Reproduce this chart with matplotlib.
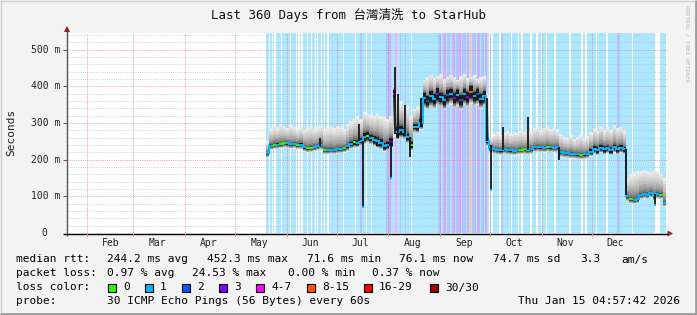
import datetime as dt
import numpy as np
import matplotlib
matplotlib.use("Agg")
import matplotlib.pyplot as plt
from matplotlib.patches import Rectangle, Polygon
from matplotlib.lines import Line2D

# ---------------- data ----------------
TITLE = "Last 360 Days from 台灣清洗 to StarHub"
range_start = dt.datetime(2025, 1, 20, 4, 57, 42)
range_days = 360
month_names = ["Feb", "Mar", "Apr", "May", "Jun", "Jul", "Aug", "Sep", "Oct", "Nov", "Dec"]
month_numbers = [2, 3, 4, 5, 6, 7, 8, 9, 10, 11, 12]
y_tick_values = [0, 100, 200, 300, 400, 500]
y_tick_labels = ["0", "100 m", "200 m", "300 m", "400 m", "500 m"]
y_max_ms = 545

first_col_day = 119.4     # first day with data (days after range start)
col_days = 2.0            # width of one data column in days

median_ms = [
    217, 238, 240, 241, 242, 245, 244, 242, 243, 240,
    241, 233, 231, 232, 234, 236, 240, 226, 226, 227,
    226, 228, 229, 231, 236, 243, 247, 246, 252, 262,
    265, 260, 254, 250, 246, 236, 240, 248, 380, 275,
    280, 275, 262, 240, 290, 288, 300, 368, 360, 372,
    365, 378, 370, 362, 375, 380, 368, 375, 362, 378,
    370, 385, 372, 378, 366, 372, 250, 232, 228, 226,
    225, 228, 226, 225, 224, 226, 227, 228, 226, 228,
    233, 234, 233, 232, 234, 233, 232, 233, 220, 218,
    217, 216, 215, 214, 213, 214, 215, 222, 230, 226,
    232, 228, 231, 226, 233, 228, 232, 228, 100, 92,
    90, 92, 104, 106, 104, 108, 100, 106, 104, 82,
]
smoke_top_ms = [
    250, 285, 292, 288, 295, 290, 286, 293, 288, 284,
    290, 282, 286, 290, 284, 288, 292, 282, 285, 290,
    286, 292, 288, 284, 296, 305, 312, 318, 310, 330,
    325, 322, 318, 326, 320, 315, 312, 320, 400, 372,
    360, 350, 345, 320, 338, 345, 342, 418, 425, 430,
    422, 428, 432, 420, 426, 430, 424, 418, 428, 432,
    422, 426, 430, 420, 425, 428, 380, 262, 270, 275,
    268, 272, 278, 270, 275, 272, 278, 274, 280, 276,
    285, 288, 282, 286, 290, 284, 288, 283, 270, 262,
    258, 266, 255, 262, 268, 258, 264, 275, 285, 278,
    292, 280, 288, 282, 295, 285, 290, 280, 150, 160,
    165, 170, 168, 172, 170, 166, 172, 168, 162, 150,
]
smoke_bottom_ms = [
    205, 226, 228, 229, 230, 232, 231, 229, 230, 227,
    228, 221, 219, 220, 222, 224, 226, 214, 214, 215,
    214, 216, 217, 219, 222, 228, 232, 232, 236, 240,
    245, 240, 236, 232, 228, 222, 225, 232, 262, 255,
    258, 255, 245, 225, 272, 272, 282, 340, 335, 342,
    338, 348, 342, 335, 345, 350, 340, 346, 335, 348,
    342, 352, 345, 350, 338, 345, 235, 218, 215, 213,
    212, 215, 213, 212, 211, 213, 214, 215, 213, 215,
    220, 221, 220, 219, 221, 220, 219, 220, 207, 205,
    204, 203, 202, 201, 200, 201, 202, 208, 215, 212,
    218, 214, 217, 212, 219, 214, 218, 214, 85, 80,
    78, 80, 92, 94, 92, 96, 88, 94, 92, 72,
]
core_ms = [
    3, 3, 3, 3, 3, 3, 3, 3, 3, 3,
    3, 3, 3, 3, 3, 3, 3, 3, 3, 3,
    3, 3, 3, 3, 4, 5, 6, 6, 6, 10,
    10, 8, 10, 12, 9, 8, 8, 10, 10, 14,
    12, 10, 9, 8, 6, 8, 10, 14, 12, 15,
    13, 16, 12, 14, 15, 12, 14, 16, 13, 15,
    14, 16, 12, 15, 13, 14, 4, 3, 3, 3,
    3, 3, 3, 3, 3, 3, 3, 3, 3, 3,
    3, 3, 3, 3, 3, 3, 3, 3, 3, 3,
    3, 3, 3, 3, 3, 3, 3, 6, 7, 8,
    7, 8, 6, 8, 7, 8, 7, 6, 3, 3,
    3, 3, 3, 3, 3, 3, 3, 3, 3, 3,
]
median_loss = [
    1, 1, 0, 1, 0, 0, 1, 1, 1, 0,
    1, 1, 0, 0, 1, 1, 1, 0, 1, 1,
    1, 1, 1, 0, 1, 1, 0, 1, 1, 1,
    0, 1, 1, 1, 1, 1, 1, 3, 4, 1,
    1, 1, 1, 0, 1, 1, 1, 1, 2, 1,
    1, 3, 1, 1, 2, 1, 3, 1, 2, 1,
    3, 5, 1, 2, 1, 1, 1, 1, 1, 1,
    1, 1, 1, 1, 1, 1, 0, 0, 1, 1,
    1, 1, 1, 1, 0, 1, 1, 1, 1, 1,
    1, 1, 1, 1, 0, 1, 1, 1, 1, 1,
    1, 1, 1, 1, 1, 1, 1, 1, 1, 0,
    1, 1, 1, 1, 1, 1, 1, 1, 0, 1,
]

# single-column excursions of the dense smoke core
spike_day = [151.8, 175.2, 177.6, 194.4, 196.8, 198.6, 202.8, 205.8, 212.4,
             252.0, 254.4, 261.6, 276.6, 295.2, 335.4, 352.8]
spike_lo = [236, 250, 72, 150, 270, 260, 265, 206, 290, 250, 116, 225, 226, 198, 100, 75]
spike_hi = [258, 298, 250, 248, 452, 380, 348, 262, 368, 368, 240, 290, 315, 233, 228, 106]

# background loss shading
zero_loss_days = [121.5, 123.3, 124.8, 128.7, 134.1, 137.7, 139.2, 141.0, 144.3, 146.7,
                  149.1, 150.3, 152.7, 154.5, 156.6, 165.9, 173.1, 179.7, 182.7, 206.7,
                  253.5, 255.0, 259.8, 266.7, 270.9, 273.0, 278.4, 282.0, 284.7, 287.7,
                  292.8, 301.8, 309.0, 311.4, 317.7, 324.0, 339.3]
zero_loss_wide = [(352.8, 355.8)]
loss_span_start = [175.8, 191.4, 193.2, 196.5, 199.5, 202.5, 222.6, 225.6, 228.0, 231.0,
                   233.4, 234.6, 237.0, 240.0, 241.8, 243.0, 246.0, 248.4, 250.8, 260.4, 330.0]
loss_span_end = [176.7, 193.2, 194.4, 197.7, 200.1, 203.1, 224.4, 227.4, 229.8, 232.8,
                 234.6, 236.4, 239.4, 241.2, 243.0, 245.4, 247.8, 250.2, 252.0, 261.6, 331.8]
loss_span_class = [2, 2, 3, 4, 2, 2, 2, 3, 2, 3,
                   2, 3, 2, 3, 5, 2, 3, 2, 3, 2, 2]

loss_labels = ["0", "1", "2", "3", "4-7", "8-15", "16-29", "30/30"]
loss_colors = ["#26ff00", "#00b8ff", "#0059ff", "#7e00ff", "#ff00ff", "#ff5500", "#ff0000", "#a10000"]

rtt_stats = ["244.2 ms avg", "452.3 ms max", "71.6 ms min", "76.1 ms now", "74.7 ms sd", "3.3", "am/s"]
loss_stats = ["0.97 % avg", "24.53 % max", "0.00 % min", "0.37 % now"]
probe_text = "30 ICMP Echo Pings (56 Bytes) every 60s"
stamp_text = "Thu Jan 15 04:57:42 2026"

# ---------------- layout ----------------
W, H = 697, 315
PL, PR, PT, PB = 67, 667, 33, 233
BG = "#f3f3f3"
MONO = "DejaVu Sans Mono"

fig = plt.figure(figsize=(W / 100, H / 100), dpi=100, facecolor=BG)


def fx(x):
    return x / W


def fy(y):
    return 1 - y / H


ax = fig.add_axes([fx(PL), fy(PB), (PR - PL) / W, (PB - PT) / H])
ax.set_facecolor("white")
ax.set_xlim(0, range_days)
ax.set_ylim(0, y_max_ms)
for s in ax.spines.values():
    s.set_visible(False)
ax.set_xticks([])
ax.set_yticks([])


def blend(c, a=0.33):
    r, g, b = matplotlib.colors.to_rgb(c)
    return (1 - a + a * r, 1 - a + a * g, 1 - a + a * b)


n = len(median_ms)
m = np.array(median_ms, float)
top = np.array(smoke_top_ms, float)
bot = np.array(smoke_bottom_ms, float)
core = np.array(core_ms, float)
edges = first_col_day + col_days * np.arange(n + 1)

# background shading
ax.axvspan(first_col_day, edges[-1], color=blend(loss_colors[1]), lw=0, zorder=0.5)
for d in zero_loss_days:
    ax.axvspan(d - 0.4, d + 0.4, color="white", lw=0, zorder=0.6)
for s, e in zero_loss_wide:
    ax.axvspan(s, e, color="white", lw=0, zorder=0.6)
for s, e, c in zip(loss_span_start, loss_span_end, loss_span_class):
    ax.axvspan(s, e, color=blend(loss_colors[c]), lw=0, zorder=0.7)


def stepy(v):
    return np.append(v, v[-1])


# grid (drawn under the smoke, over the shading)
month_days = [(dt.datetime(2025, mo, 1) - range_start).total_seconds() / 86400 for mo in month_numbers]
dot = (0, (1, 1.2))
for v in range(20, y_max_ms, 20):
    if v % 100:
        ax.axhline(v, color="#c2c2c2", lw=0.72, ls=dot, zorder=1, alpha=0.75, snap=True)
for v in y_tick_values[1:]:
    ax.axhline(v, color="#e07a7a", lw=0.72, ls=dot, zorder=1.1, alpha=0.7, snap=True)
for d in month_days:
    ax.axvline(d, color="#e07a7a", lw=0.72, ls=dot, zorder=1.1, alpha=0.7, snap=True)

# smoke
N = 15
up_base = m + core
lo_base = m - core
for k in range(N):
    frac = (N - k) / N
    up = up_base + np.maximum(top - up_base, 0) * frac ** 2.2
    lo = lo_base - np.maximum(lo_base - bot, 0) * frac
    g = (235 - (235 - 70) * k / (N - 1)) / 255
    ax.fill_between(edges, stepy(lo), stepy(up), step="post", color=(g, g, g), lw=0, zorder=2)
ax.fill_between(edges, stepy(lo_base), stepy(up_base), step="post", color="#1c1c1c", lw=0, zorder=2.5)

# median line coloured by loss
cls = np.array(median_loss)
i = 0
while i < n:
    j = i
    while j + 1 < n and cls[j + 1] == cls[i]:
        j += 1
    xs = edges[i:j + 2]
    ys = np.append(m[i:j + 1], m[j])
    ax.step(xs, ys, where="post", color=loss_colors[cls[i]], lw=1.4, zorder=4,
            solid_capstyle="butt", solid_joinstyle="miter")
    i = j + 1

# spikes of the smoke core
ax.vlines(spike_day, spike_lo, spike_hi, color="#161616", lw=1.3, zorder=5)
for d, lo, hi in zip(spike_day, spike_lo, spike_hi):
    if lo < 160:
        ax.plot([d - 0.5, d + 0.5], [lo, lo], color=loss_colors[1], lw=1.4, zorder=6,
                solid_capstyle="butt")

# ---------------- axes decoration (figure pixels) ----------------
def fline(x0, y0, x1, y1, color, lw=0.72):
    fig.add_artist(Line2D([fx(x0), fx(x1)], [fy(y0), fy(y1)], color=color, lw=lw,
                          transform=fig.transFigure, solid_capstyle="butt"))


fline(PL, 31, PL, 236, "#555555", 1.0)
fline(63, PB + 0.5, 668, PB + 0.5, "#000000", 1.0)
for v in y_tick_values[1:]:
    yy = PB - v / y_max_ms * (PB - PT)
    fline(63, yy, PL, yy, "#555555", 0.72)
for d in month_days:
    xx = PL + d / range_days * (PR - PL)
    fline(xx, PB, xx, PB + 3, "#e38c8c", 0.72)
arrow_c = "#9b1c1c"
fig.add_artist(Polygon([[fx(67), fy(26)], [fx(64), fy(32)], [fx(70), fy(32)]],
                       closed=True, transform=fig.transFigure, color=arrow_c, lw=0))
fig.add_artist(Polygon([[fx(673), fy(233.5)], [fx(667.5), fy(230.5)], [fx(667.5), fy(236.5)]],
                       closed=True, transform=fig.transFigure, color=arrow_c, lw=0))

# y tick labels
for v, lab in zip(y_tick_values, y_tick_labels):
    yy = PB - v / y_max_ms * (PB - PT)
    xr = 47 if lab == "0" else 60
    fig.text(fx(xr), fy(yy), lab, ha="right", va="center", fontsize=7, family=MONO, color="#222222")

# month labels
for d, lab in zip(month_days, month_names):
    xx = PL + (d + 14.4) / range_days * (PR - PL)
    fig.text(fx(xx), fy(242.5), lab, ha="center", va="center", fontsize=7, family=MONO, color="#222222")

# title, unit, watermark
fig.text(fx(348.5), fy(15), TITLE, ha="center", va="center", fontsize=9,
         family=[MONO, "Noto Sans CJK TC"], color="#111111")
fig.text(fx(11), fy(132.5), "Seconds", ha="center", va="center", rotation=90, fontsize=8,
         family=MONO, color="#222222")
fig.text(fx(687), fy(5), "RRDTOOL / TOBI OETIKER", ha="center", va="top", rotation=270,
         fontsize=4.2, family=MONO, color="#b8b8b8")

# legend
row_y = [259.5, 273.5, 287.5, 301.5]
fs = 8
fig.text(fx(15.6), fy(row_y[0]), "median rtt:", ha="left", va="center", fontsize=fs, family=MONO)
for xx, t in zip([107, 207, 307, 399, 493, 580, 621], rtt_stats):
    fig.text(fx(xx), fy(row_y[0]), t, ha="left", va="center", fontsize=fs, family=MONO)
fig.text(fx(15.6), fy(row_y[1]), "packet loss:", ha="left", va="center", fontsize=fs, family=MONO)
for xx, t in zip([107, 192, 288, 372], loss_stats):
    fig.text(fx(xx), fy(row_y[1]), t, ha="left", va="center", fontsize=fs, family=MONO)
fig.text(fx(15.6), fy(row_y[2]), "loss color:", ha="left", va="center", fontsize=fs, family=MONO)
box_x = [108, 145, 182, 219, 256, 307, 364, 430]
for bx, lab, col in zip(box_x, loss_labels, loss_colors):
    fig.add_artist(Rectangle((fx(bx), fy(292)), 8 / W, 8 / H, transform=fig.transFigure,
                             facecolor=col, edgecolor="black", lw=0.8))
    fig.text(fx(bx + 15), fy(row_y[2]), lab, ha="left", va="center", fontsize=fs, family=MONO)
fig.text(fx(15.6), fy(row_y[3]), "probe:", ha="left", va="center", fontsize=fs, family=MONO)
fig.text(fx(107), fy(row_y[3]), probe_text, ha="left", va="center", fontsize=fs, family=MONO)
fig.text(fx(680), fy(row_y[3]), stamp_text, ha="right", va="center", fontsize=fs, family=MONO)

# frame shading
fline(0, 0.5, W, 0.5, "#cfcfcf", 1.0)
fline(0.5, 0, 0.5, H, "#cfcfcf", 1.0)
fline(W - 1.5, 0, W - 1.5, H, "#9e9e9e", 2.0)
fline(0, H - 1.5, W, H - 1.5, "#9e9e9e", 2.0)

fig.savefig("out.png", dpi=100, facecolor=BG)
